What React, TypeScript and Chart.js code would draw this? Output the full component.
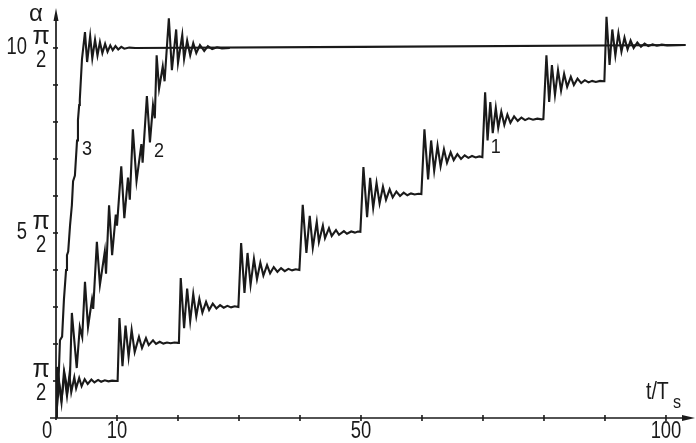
import React, { useEffect, useRef } from "react";
import { Chart, registerables } from "chart.js";

Chart.register(...registerables);

// Curve 1: staircase, one step of pi/2 every 10 Ts
const curve1: [number, number][] = [
  [0, 0], [0.15, 1.38], [0.9, 0.42], [1.3, 1.24], [1.8, 0.6], [2.2, 1.16], [2.5, 0.7], [3.0, 1.1], [3.3, 0.8], [3.8, 1.08], [4.2, 0.86], [4.7, 1.05], [5.2, 0.92], [5.8, 1.04], [6.3, 0.96], [6.9, 1.03], [7.4, 0.98], [8.0, 1.02], [8.6, 0.99], [9.2, 1.01], [9.95, 1.0],
  [10.1, 1.0], [10.4, 2.7], [10.9, 1.4], [11.4, 2.5], [11.9, 1.65], [12.4, 2.38], [12.9, 1.78], [13.6, 2.19], [14.1, 1.89], [14.75, 2.16], [15.2, 1.97], [15.9, 2.1], [16.4, 2.0], [17.0, 2.06], [17.6, 2.01], [18.2, 2.04], [18.8, 2.02], [19.4, 2.04], [20.0, 2.03],
  [20.15, 2.03], [20.45, 3.78], [21.0, 2.43], [21.5, 3.5], [22.0, 2.62], [22.5, 3.35], [23.0, 2.75], [23.5, 3.22], [24.0, 2.85], [24.6, 3.14], [25.1, 2.92], [25.7, 3.09], [26.3, 2.96], [26.9, 3.05], [27.5, 2.98], [28.1, 3.03], [28.7, 2.99], [29.3, 3.02], [29.9, 3.0],
  [30.0, 3.0], [30.35, 4.73], [30.9, 3.38], [31.4, 4.46], [31.9, 3.6], [32.45, 4.3], [32.95, 3.75], [33.5, 4.2], [34.0, 3.85], [34.6, 4.13], [35.1, 3.91], [35.7, 4.08], [36.3, 3.95], [36.9, 4.05], [37.5, 3.97], [38.1, 4.03], [38.7, 3.99], [39.3, 4.02], [39.9, 4.0],
  [40.0, 4.0], [40.45, 5.76], [41.05, 4.46], [41.6, 5.46], [42.1, 4.6], [42.75, 5.3], [43.1, 4.76], [43.75, 5.2], [44.1, 4.86], [44.75, 5.13], [45.2, 4.92], [45.9, 5.08], [46.4, 4.95], [47.2, 5.05], [47.7, 4.98], [48.4, 5.04], [49.0, 5.01], [49.5, 5.04], [49.9, 5.03],
  [50.0, 5.03], [50.4, 6.78], [51.0, 5.43], [51.5, 6.49], [52.0, 5.68], [52.55, 6.35], [53.05, 5.8], [53.6, 6.25], [54.1, 5.9], [54.7, 6.18], [55.2, 5.96], [55.8, 6.12], [56.4, 6.0], [57.0, 6.09], [57.6, 6.02], [58.2, 6.07], [58.8, 6.04], [59.4, 6.06], [59.9, 6.05],
  [60.0, 6.05], [60.4, 7.8], [61.0, 6.45], [61.5, 7.5], [62.0, 6.68], [62.55, 7.36], [63.05, 6.8], [63.6, 7.26], [64.1, 6.9], [64.7, 7.18], [65.2, 6.97], [65.8, 7.13], [66.4, 7.0], [67.0, 7.1], [67.6, 7.03], [68.2, 7.08], [68.8, 7.04], [69.4, 7.07], [69.9, 7.05],
  [70.0, 7.05], [70.35, 8.8], [70.75, 7.5], [71.2, 8.54], [71.6, 7.7], [72.1, 8.38], [72.5, 7.84], [73.0, 8.28], [73.5, 7.92], [74.0, 8.2], [74.5, 7.98], [75.1, 8.15], [75.7, 8.03], [76.3, 8.12], [76.9, 8.05], [77.5, 8.1], [78.2, 8.06], [78.9, 8.09], [79.6, 8.07], [79.9, 8.08],
  [80.0, 8.08], [80.4, 9.8], [80.85, 8.54], [81.3, 9.54], [81.8, 8.73], [82.3, 9.4], [82.8, 8.85], [83.3, 9.3], [83.8, 8.95], [84.4, 9.22], [84.9, 9.0], [85.5, 9.17], [86.1, 9.05], [86.7, 9.13], [87.3, 9.07], [87.9, 9.11], [88.5, 9.08], [89.2, 9.11], [89.8, 9.1],
  [89.9, 9.1], [90.25, 10.84], [90.75, 9.54], [91.2, 10.5], [91.7, 9.8], [92.2, 10.4], [92.7, 9.9], [93.2, 10.28], [93.7, 9.96], [94.2, 10.2], [94.7, 10.0], [95.3, 10.15], [95.9, 10.03], [96.5, 10.12], [97.1, 10.05], [97.8, 10.1], [98.5, 10.06], [99.3, 10.09], [100.2, 10.07], [103.2, 10.08],
];

// Curve 2: fast noisy rise
const curve2: [number, number][] = [
  [0, 0], [0.2, 1.35], [0.9, 0.5], [1.4, 1.2], [1.9, 0.75], [2.3, 1.15], [2.6, 2.84], [3.4, 1.35], [3.9, 2.46], [4.3, 2.19], [4.75, 3.68], [5.25, 2.46], [5.9, 3.2], [6.1, 2.95], [6.7, 4.76], [7.2, 3.6], [8.0, 4.5], [8.2, 3.9], [8.7, 5.75], [9.2, 4.4], [9.8, 5.5], [10.0, 5.2], [10.7, 6.8], [11.2, 5.4], [11.8, 6.5], [12.1, 5.9], [12.6, 7.8], [13.2, 6.4], [14.0, 7.4], [14.2, 6.9], [14.9, 8.7], [15.4, 7.45], [15.9, 8.45], [16.2, 8.1], [16.5, 9.8], [16.9, 8.9], [17.5, 9.5], [17.8, 9.1], [18.5, 10.8], [19.0, 9.4], [19.7, 10.5], [20.0, 9.6], [20.7, 10.35], [21.0, 9.7], [21.5, 10.2], [22.0, 9.8], [22.5, 10.13], [23.0, 9.86], [23.6, 10.08], [24.3, 9.92], [24.9, 10.05], [25.6, 9.97], [26.4, 10.02], [27.2, 9.99], [28.5, 10.0],
];

// Curve 3: very fast rise, then level 10 pi/2
const curve3: [number, number][] = [
  [0, 0], [0.33, 0.6], [0.65, 2.1], [1.0, 2.2], [1.3, 3.2], [1.65, 4.0], [1.8, 4.4], [2.0, 4.5], [2.3, 5.2], [2.6, 5.75], [2.8, 6.4], [3.1, 6.55], [3.45, 7.5], [3.6, 8.05], [3.8, 8.46], [3.9, 8.6], [4.26, 9.7], [4.75, 10.43], [5.1, 9.62], [5.6, 10.32], [5.95, 9.72], [6.4, 10.22], [6.8, 9.8], [7.2, 10.16], [7.6, 9.86], [8.05, 10.11], [8.45, 9.9], [8.9, 10.07], [9.3, 9.94], [9.75, 10.05], [10.2, 9.96], [10.7, 10.03], [11.2, 9.98], [12.0, 10.01], [13.0, 10.0], [50, 10.03], [103.2, 10.08],
];

const xTickValues = [10, 20, 30, 40, 50, 60, 70, 80, 90, 100];
const xLabelValues = [0, 10, 50, 100];
const yTickValues = [1, 2, 3, 4, 5, 6, 7, 8, 9, 10];
const yLabelValues = [1, 5, 10];
const yLabelFactors = ["", "5", "10"];
const curveNames = ["1", "2", "3"];
const curveNameT = [72.1, 16.9, 5.1];
const curveNameA = [7.3, 7.2, 7.25];

const INK = "#1a1a1a";
const FONT = '"Liberation Sans", Arial, sans-serif';

function txt(ctx: CanvasRenderingContext2D, s: string, x: number, y: number, size: number, align: CanvasTextAlign, sx = 1) {
  ctx.save();
  ctx.translate(x, y);
  ctx.scale(sx, 1);
  ctx.font = `${size}px ${FONT}`;
  ctx.fillStyle = INK;
  ctx.textAlign = align;
  ctx.textBaseline = "middle";
  ctx.fillText(s, 0, 0);
  ctx.restore();
}

const axesPlugin = {
  id: "handAxes",
  afterDatasetsDraw(chart: any) {
    const ctx: CanvasRenderingContext2D = chart.ctx;
    const xs = chart.scales.x;
    const ys = chart.scales.y;
    const area = chart.chartArea;
    const x0 = xs.getPixelForValue(0);
    const y0 = ys.getPixelForValue(0);
    ctx.save();
    ctx.strokeStyle = INK;
    ctx.fillStyle = INK;
    ctx.lineWidth = 1.7;
    // x axis
    ctx.beginPath();
    ctx.moveTo(x0 - 6, y0);
    ctx.lineTo(area.right - 6, y0);
    ctx.stroke();
    ctx.beginPath();
    ctx.moveTo(area.right + 2, y0);
    ctx.lineTo(area.right - 11, y0 - 3);
    ctx.lineTo(area.right - 11, y0 + 3);
    ctx.closePath();
    ctx.fill();
    // y axis
    ctx.beginPath();
    ctx.moveTo(x0, y0 + 2);
    ctx.lineTo(x0, area.top + 6);
    ctx.stroke();
    ctx.beginPath();
    ctx.moveTo(x0, area.top);
    ctx.lineTo(x0 - 2.5, area.top + 13);
    ctx.lineTo(x0 + 2.5, area.top + 13);
    ctx.closePath();
    ctx.fill();
    // ticks
    ctx.lineWidth = 1.6;
    xTickValues.forEach((v) => {
      const px = xs.getPixelForValue(v);
      ctx.beginPath();
      ctx.moveTo(px, y0 - 3);
      ctx.lineTo(px, y0 + 3);
      ctx.stroke();
    });
    yTickValues.forEach((v) => {
      const py = ys.getPixelForValue(v);
      ctx.beginPath();
      ctx.moveTo(x0 - 3, py);
      ctx.lineTo(x0 + 2, py);
      ctx.stroke();
    });
    ctx.restore();

    // x labels
    xLabelValues.forEach((v) => {
      const px = xs.getPixelForValue(v) + (v === 0 ? -9 : 0);
      txt(ctx, String(v), px, y0 + 14, 23, "center", 0.8);
    });
    // y labels
    yLabelValues.forEach((v, i) => {
      const py = ys.getPixelForValue(v);
      txt(ctx, "π", x0 - 15, py - 11, 25, "center", 1);
      txt(ctx, "2", x0 - 15, py + 13, 23, "center", 0.8);
      if (yLabelFactors[i]) txt(ctx, yLabelFactors[i], x0 - 29, py, 23, "right", 0.8);
    });
    // axis titles
    txt(ctx, "α", x0 - 20, area.top + 6, 24, "center", 1);
    const tx = xs.getPixelForValue(100);
    txt(ctx, "t/T", tx - 20, y0 - 25, 23, "left", 0.85);
    txt(ctx, "s", tx + 7, y0 - 15, 19, "left", 0.85);
    // curve names
    curveNames.forEach((n, i) => {
      txt(ctx, n, xs.getPixelForValue(curveNameT[i]), ys.getPixelForValue(curveNameA[i]), 20, "center", 0.9);
    });
  },
};

export default function App() {
  const ref = useRef<HTMLCanvasElement | null>(null);
  useEffect(() => {
    if (!ref.current) return;
    const mk = (pts: [number, number][]) => ({
      data: pts.map(([x, y]) => ({ x, y })),
      borderColor: INK,
      borderWidth: 2.1,
      pointRadius: 0,
      fill: false,
      tension: 0,
    });
    const chart = new Chart(ref.current, {
      type: "line",
      data: { datasets: [mk(curve1), mk(curve2), mk(curve3)] as any },
      options: {
        animation: false,
        responsive: false,
        events: [],
        layout: { padding: { left: 56, right: 3, top: 8, bottom: 25 } },
        plugins: { legend: { display: false }, tooltip: { enabled: false } },
        scales: {
          x: { type: "linear", min: 0, max: 104.43, display: false },
          y: { type: "linear", min: 0, max: 11.08, display: false },
        },
      },
      plugins: [axesPlugin],
    });
    return () => chart.destroy();
  }, []);
  return (
    <div style={{ position: "fixed", left: 0, top: 0, width: 696, height: 443, background: "#fff" }}>
      <canvas ref={ref} width={696} height={443} style={{ display: "block", width: 696, height: 443 }} />
    </div>
  );
}
